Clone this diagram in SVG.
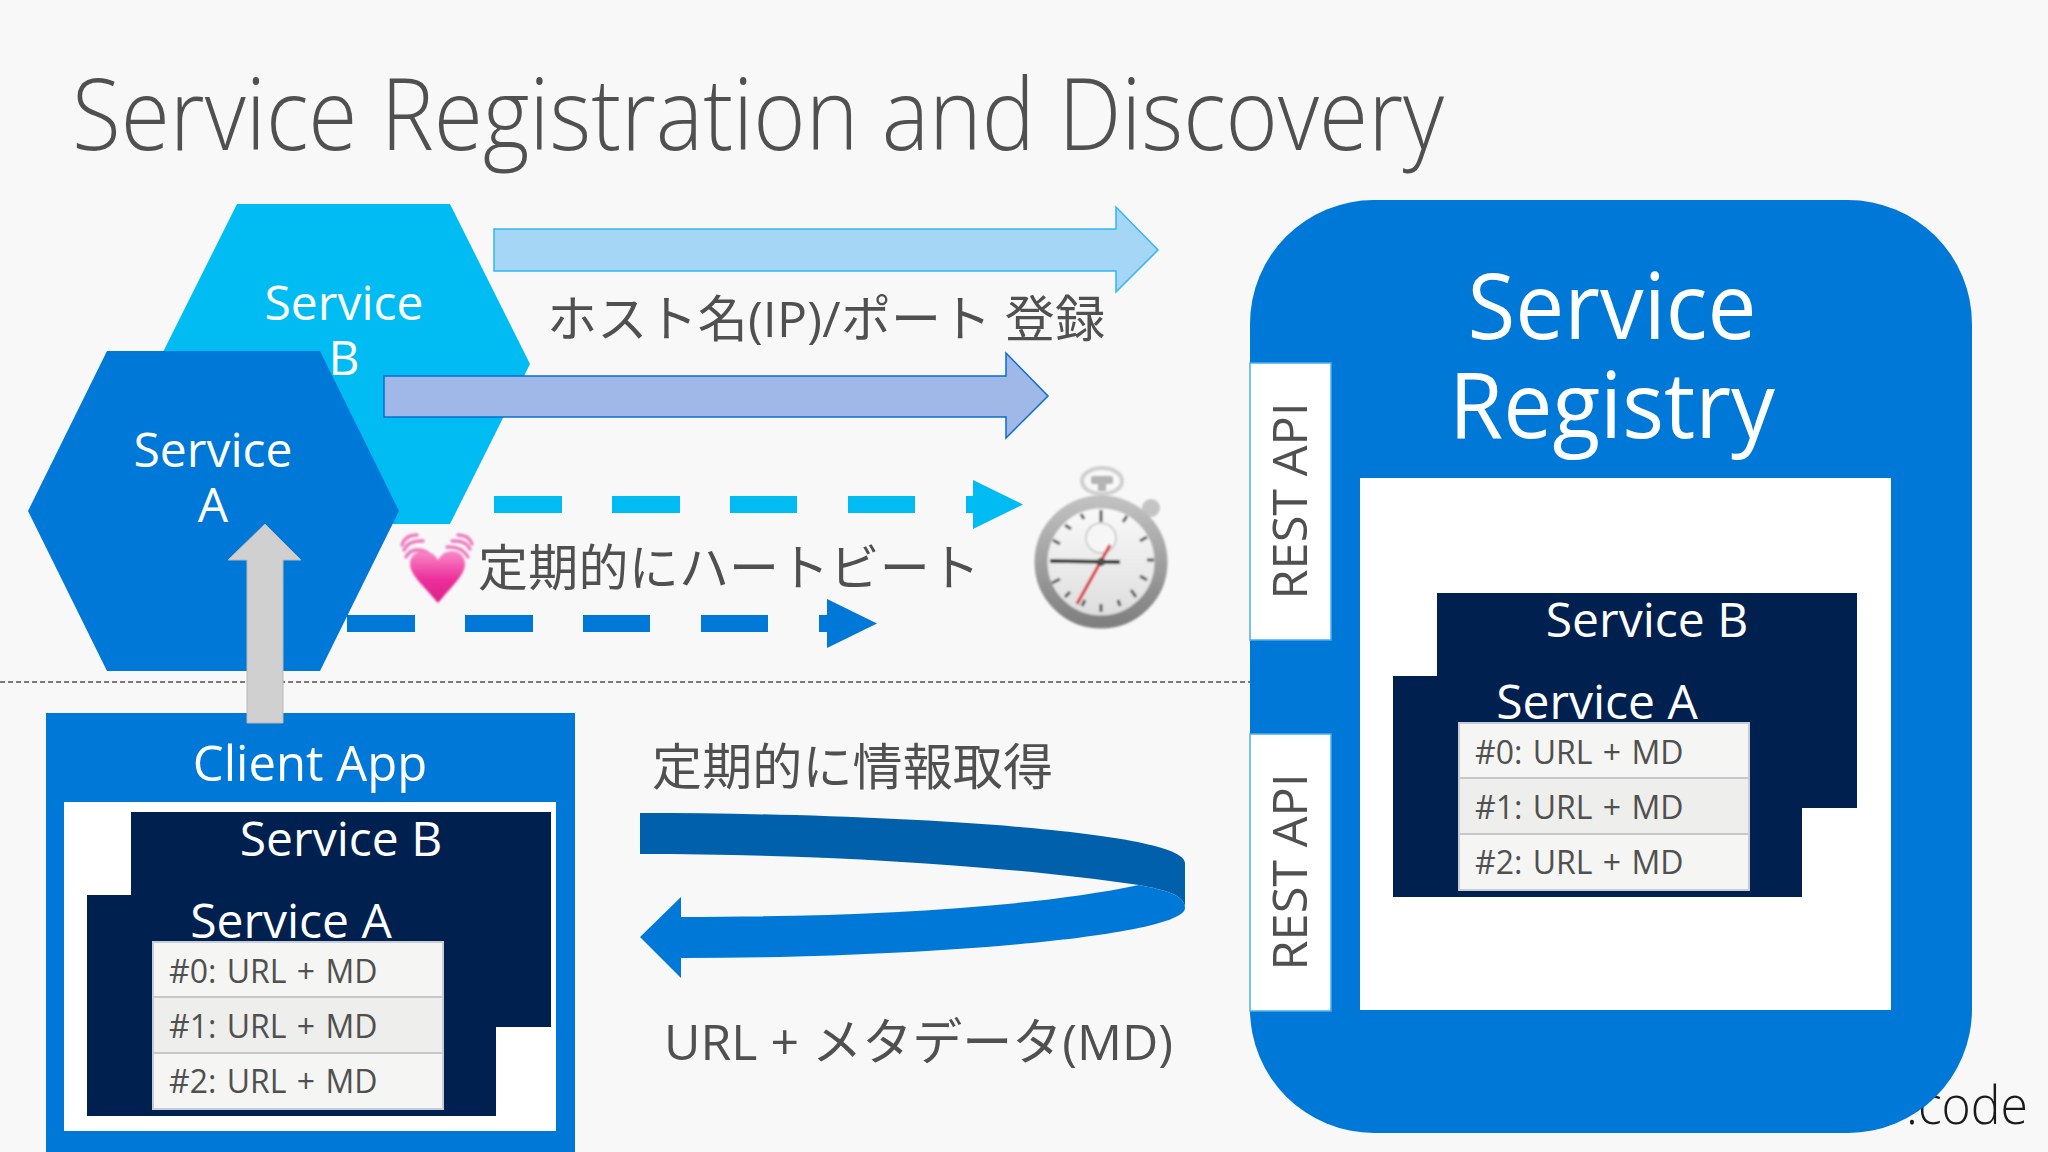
<svg xmlns="http://www.w3.org/2000/svg" width="2048" height="1152" viewBox="0 0 2048 1152">
<style>
text{font-family:"Open Sans","Noto Sans CJK JP",sans-serif;}
.t{fill:#505050;font-weight:300}
.j{fill:#505050;font-family:"Open Sans","Noto Sans CJK JP",sans-serif;font-weight:400;font-size:50px}
.w{fill:#fff;font-weight:400;text-anchor:middle}
.c{fill:#0078d7}
.n{fill:#002050}
.r{fill:#505050;font-size:32px;word-spacing:2px}
.api{fill:#505050;font-size:48px;text-anchor:middle}
.box{fill:#fff;stroke:#48aef0;stroke-width:1.5}
</style>
<defs>
<linearGradient id="heart" x1="0" y1="0" x2="0" y2="1"><stop offset="0" stop-color="#f98cc8"/><stop offset=".55" stop-color="#ec2f9b"/><stop offset="1" stop-color="#dc1f88"/></linearGradient>
<linearGradient id="ring" x1="0" y1="0" x2="0" y2="1"><stop offset="0" stop-color="#c0c0c0"/><stop offset="1" stop-color="#808080"/></linearGradient>
<linearGradient id="face" x1="0" y1="0" x2="0" y2="1"><stop offset="0" stop-color="#fbfbfb"/><stop offset="1" stop-color="#dcdcdc"/></linearGradient>
<filter id="soft" x="-10%" y="-10%" width="120%" height="120%"><feGaussianBlur stdDeviation="0.8"/></filter>
</defs>
<rect width="2048" height="1152" fill="#f8f8f9"/>
<text id="title" x="72" y="150" class="t" font-size="100" textLength="1372" lengthAdjust="spacingAndGlyphs">Service Registration and Discovery</text>
<line x1="0" y1="682" x2="1250" y2="682" stroke="#505050" stroke-width="1.5" stroke-dasharray="5 3"/>

<g id="service-b">
<polygon points="237,204 450,204 530,364 450,524 237,524 157,364" fill="#00bcf2"/>
<text class="w" x="344" y="320" font-size="48">Service</text>
<text class="w" x="344" y="375" font-size="48">B</text>
</g>
<g id="service-a">
<polygon points="107,351 320,351 399,511 320,671 107,671 28,511" class="c"/>
<text class="w" x="213" y="467" font-size="48">Service</text>
<text class="w" x="213" y="522" font-size="48">A</text>
</g>

<g id="registry">
<text x="2028" y="1124" font-size="54" font-weight="300" fill="#1a1a1a" text-anchor="end" textLength="122" lengthAdjust="spacingAndGlyphs">.code</text>
<rect x="1250" y="200" width="722" height="933" rx="124" class="c"/>
<rect x="1360" y="478" width="531" height="532" fill="#fff"/>
<rect x="1250" y="363" width="81" height="277" class="box"/>
<rect x="1250" y="734" width="81" height="277" class="box"/>
<text class="api" textLength="197" lengthAdjust="spacingAndGlyphs" transform="translate(1307 501) rotate(-90)">REST API</text>
<text class="api" textLength="197" lengthAdjust="spacingAndGlyphs" transform="translate(1307 872) rotate(-90)">REST API</text>
<text class="w" x="1612" y="339" font-size="92" textLength="289" lengthAdjust="spacingAndGlyphs">Service</text>
<text class="w" x="1612" y="438" font-size="92" textLength="326" lengthAdjust="spacingAndGlyphs">Registry</text>
</g>

<g id="registry-table">
<rect x="1437" y="593" width="420" height="215" class="n"/>
<text class="w" x="1647" y="637" font-size="48">Service B</text>
<rect x="1393" y="676" width="409" height="221" class="n"/>
<text class="w" x="1597" y="719" font-size="48">Service A</text>
<rect x="1459" y="723" width="290" height="167" fill="#f5f5f3" stroke="#c8ccd4" stroke-width="2"/>
<rect x="1460" y="778" width="288" height="56" fill="#eeeeec"/>
<path d="M1460,778H1748M1460,834H1748" stroke="#c8c8cc" stroke-width="2"/>
<text class="r" x="1475" y="764">#0: URL + MD</text>
<text class="r" x="1475" y="819">#1: URL + MD</text>
<text class="r" x="1475" y="874">#2: URL + MD</text>
</g>

<g id="client-app">
<rect x="46" y="713" width="529" height="439" class="c"/>
<rect x="64" y="802" width="492" height="329" fill="#fff"/>
<text class="w" x="310" y="781" font-size="49">Client App</text>
<rect x="131" y="812" width="420" height="215" class="n"/>
<text class="w" x="341" y="856" font-size="48">Service B</text>
<rect x="87" y="895" width="409" height="221" class="n"/>
<text class="w" x="291" y="938" font-size="48">Service A</text>
<rect x="153" y="942" width="290" height="167" fill="#f5f5f3" stroke="#c8ccd4" stroke-width="2"/>
<rect x="154" y="997" width="288" height="56" fill="#eeeeec"/>
<path d="M154,997H442M154,1053H442" stroke="#c8c8cc" stroke-width="2"/>
<text class="r" x="169" y="983">#0: URL + MD</text>
<text class="r" x="169" y="1038">#1: URL + MD</text>
<text class="r" x="169" y="1093">#2: URL + MD</text>
</g>

<g id="labels">
<text class="j" x="547" y="337" textLength="558">ホスト名(IP)/ポート 登録</text>
<text class="j" x="478" y="586" textLength="502">定期的にハートビート</text>
<text class="j" x="652" y="785" textLength="401">定期的に情報取得</text>
<text class="j" x="664" y="1060" textLength="509">URL + メタデータ(MD)</text>
</g>

<g id="connectors">
<polygon points="494,229 1116,229 1116,207 1158,250 1116,292 1116,271 494,271" fill="#a5d6f6" stroke="#2fb8f0" stroke-width="1.5"/>
<polygon points="384,376 1006,376 1006,353 1048,396 1006,438 1006,417 384,417" fill="#a0b8e8" stroke="#0a6cd0" stroke-width="1.5"/>
<g fill="#00bcf2">
<rect x="494" y="496" width="68" height="17"/><rect x="612" y="496" width="68" height="17"/><rect x="730" y="496" width="67" height="17"/><rect x="848" y="496" width="67" height="17"/><rect x="966" y="496" width="8" height="17"/>
<polygon points="973,480 1023,504.5 973,529"/>
</g>
<g fill="#0078d7">
<rect x="347" y="615" width="68" height="17"/><rect x="465" y="615" width="68" height="17"/><rect x="583" y="615" width="67" height="17"/><rect x="701" y="615" width="67" height="17"/><rect x="819" y="615" width="8" height="17"/>
<polygon points="827,599 877,623.5 827,648"/>
</g>
<polygon points="247,723 247,560 228,560 265,524 301,560 283,560 283,723" fill="#d0d0d0" stroke="#b8b8b8"/>
<path d="M640,813 C880,813 1185,830 1185,863 L1185,908 C1185,895 1165,890 1139,885 C1000,865 820,854 640,854 Z" fill="#0060ac"/>
<path d="M1139,885 C1165,890 1185,895 1185,908 C1185,935 940,958 681,958 L681,978 L640,937 L681,897 L681,917 C840,917 1020,910 1139,885 Z" fill="#0078d7"/>
</g>

<g id="heart-emoji" filter="url(#soft)">
<path d="M438,603 C424,586 410,575 410,564 C410,549 431,546 438,560 C445,546 465,549 465,564 C465,575 452,586 438,603 Z" fill="url(#heart)"/>
<g fill="none" stroke="#ef7cbd" stroke-width="3.5" stroke-linecap="round">
<path d="M402,545 Q405,535 417,535"/>
<path d="M404,550 Q408,540 423,541"/>
<path d="M406,557 Q412,546 427,552"/>
<path d="M472,544 Q469,535 458,535"/>
<path d="M470,549 Q466,540 452,541"/>
<path d="M468,557 Q462,546 447,547"/>
</g>
</g>

<g id="stopwatch" filter="url(#soft)">
<ellipse cx="1102" cy="481" rx="20" ry="13" fill="none" stroke="#cfcfcf" stroke-width="4"/>
<rect x="1091" y="476" width="22" height="8" rx="2" fill="#b4b4b4"/><rect x="1098" y="484" width="8" height="7" fill="#b4b4b4"/>
<circle cx="1151" cy="508" r="9" fill="#c4c4c4"/>
<circle cx="1101" cy="562" r="60" fill="url(#face)" stroke="url(#ring)" stroke-width="13"/>
<g stroke="#555" stroke-width="3">
<line x1="1101" y1="510" x2="1101" y2="522"/><line x1="1101" y1="604" x2="1101" y2="612"/><line x1="1147" y1="560" x2="1154" y2="560"/>
<line x1="1127" y1="516" x2="1123" y2="522"/><line x1="1147" y1="537" x2="1140" y2="541"/><line x1="1147" y1="580" x2="1140" y2="576"/><line x1="1136" y1="597" x2="1131" y2="590"/><line x1="1120" y1="606" x2="1118" y2="600"/><line x1="1082" y1="606" x2="1085" y2="600"/><line x1="1065" y1="597" x2="1070" y2="592"/><line x1="1052" y1="583" x2="1060" y2="579"/><line x1="1053" y1="540" x2="1060" y2="544"/><line x1="1065" y1="525" x2="1071" y2="529"/><line x1="1081" y1="514" x2="1084" y2="519"/>
</g>
<circle cx="1101" cy="538" r="15" fill="#f6f6f6" stroke="#c4c4c4" stroke-width="1.5"/>
<line x1="1050" y1="561" x2="1120" y2="562" stroke="#111" stroke-width="3.5"/>
<line x1="1077" y1="604" x2="1110" y2="545" stroke="#d82020" stroke-width="3"/>
<circle cx="1101" cy="562" r="3.5" fill="#555" stroke="#111"/>
</g>
</svg>
